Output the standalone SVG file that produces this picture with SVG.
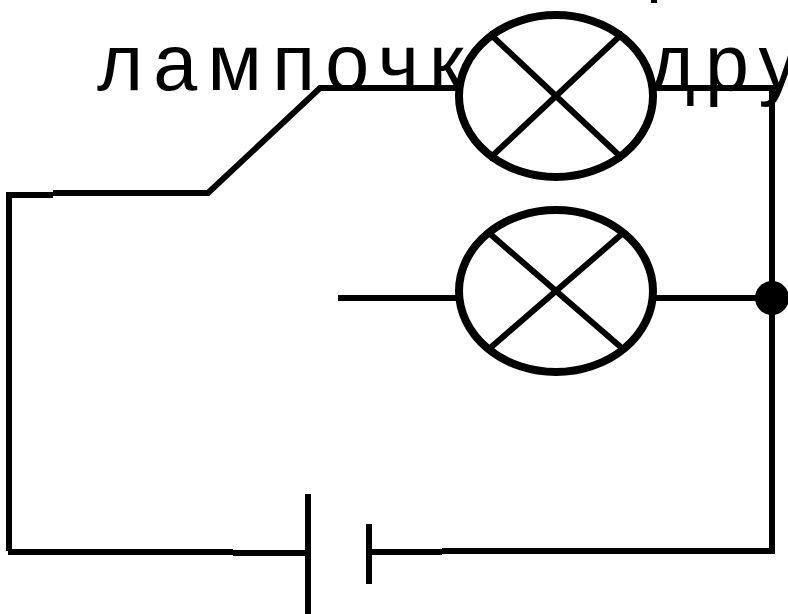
<svg xmlns="http://www.w3.org/2000/svg" width="788" height="614" viewBox="0 0 788 614">
<defs><style>
.w{fill:none;stroke:#000;stroke-width:6}
.lamp{fill:#fff;stroke:#000;stroke-width:8}
.x{fill:none;stroke:#000;stroke-width:6}
text{font-family:"Liberation Sans",Arial,sans-serif;font-size:79px;fill:#000}
</style></defs>
<rect width="788" height="614" fill="#fff"/>
<text x="97" y="90" textLength="740" lengthAdjust="spacing">лампочка и друг</text>
<rect x="651" y="0" width="6" height="3" fill="#000"/>
<g id="connectors">
<path class="w" d="M9 551V195H53M53 193H208L320 88H462"/>
<path class="w" d="M652 88H772V551H442M442 552H369"/>
<path class="w" d="M338 298H460"/>
<path class="w" d="M652 298H772"/>
<path class="w" d="M8 552H233M233 553H308"/>
</g>
<g id="lamp1"><ellipse class="lamp" cx="556" cy="96" rx="97" ry="81"/><path class="x" d="M489 33L623 159M623 33L489 159"/></g>
<g id="lamp2"><ellipse class="lamp" cx="556" cy="291" rx="97" ry="81"/><path class="x" d="M489 233L623 349M623 233L489 349"/></g>
<g id="junction"><circle cx="772" cy="298" r="17" fill="#000"/></g>
<g id="battery"><path class="w" d="M308 494V614M369 524V584"/></g>
</svg>
